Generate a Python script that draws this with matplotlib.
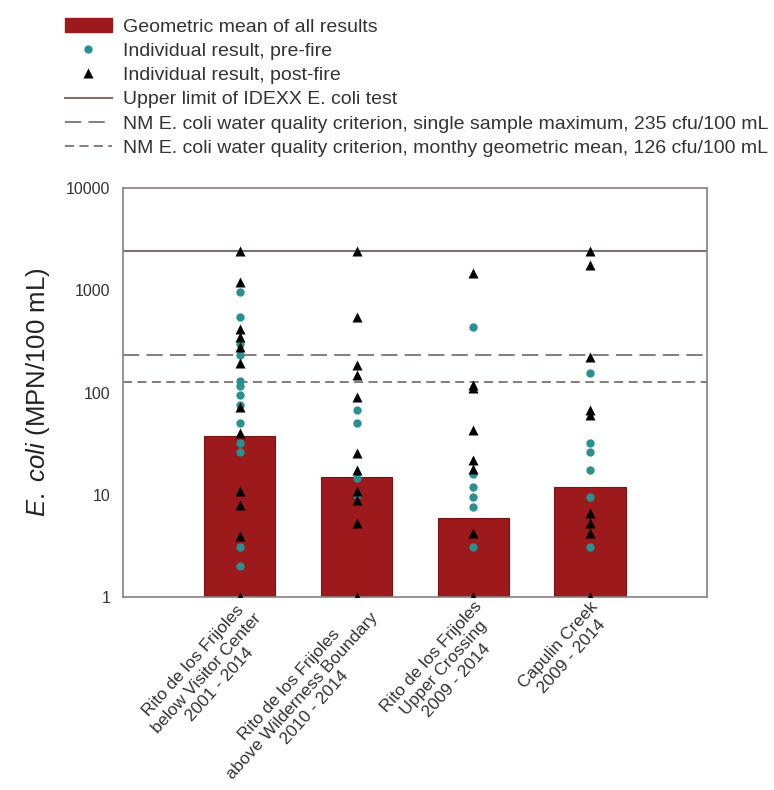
import numpy as np
import matplotlib
matplotlib.use('Agg')
import matplotlib.pyplot as plt
from matplotlib.lines import Line2D
from matplotlib.patches import Patch

plt.rcParams['font.family'] = ['Liberation Sans', 'DejaVu Sans']
plt.rcParams['mathtext.fontset'] = 'custom'
plt.rcParams['mathtext.it'] = 'Liberation Sans:italic'
plt.rcParams['mathtext.rm'] = 'Liberation Sans'

sites = ['Rito de los Frijoles\nbelow Visitor Center\n2001 - 2014',
         'Rito de los Frijoles\nabove Wilderness Boundary\n2010 - 2014',
         'Rito de los Frijoles\nUpper Crossing\n2009 - 2014',
         'Capulin Creek\n2009 - 2014']
geo_mean = [38, 15, 6, 12]

pre_fire = [
    [970, 550, 300, 235, 130, 115, 95, 75, 50, 32, 26, 3.1, 2.0],
    [67, 50, 14.6, 10],
    [437, 16, 12, 9.5, 7.6, 3.1],
    [155, 32, 26, 17.5, 9.5, 3.1],
]
post_fire = [
    [2420, 1210, 420, 350, 280, 194, 72, 40, 11, 7.9, 4.0, 1],
    [2420, 550, 185, 148, 91, 25.6, 17.5, 11, 8.9, 5.3, 1],
    [1470, 120, 110, 43, 22, 18, 4.2, 1],
    [2420, 1780, 222, 67, 60, 6.6, 5.3, 4.2, 1],
]

idexx_limit = 2419.6
single_max = 235
monthly_gm = 126

bar_col = '#9c1a1c'
teal = '#2b9090'
line_col = '#7d716e'

fig = plt.figure(figsize=(7.74, 7.9), dpi=100)
ax = fig.add_axes([0.159, 0.244, 0.754, 0.518])

x = np.arange(len(sites))
ax.bar(x, geo_mean, width=0.61, color=bar_col, edgecolor='#7a1214', linewidth=0.8, zorder=2)

ax.axhline(idexx_limit, color=line_col, lw=1.5, zorder=1)
ax.axhline(single_max, color=line_col, lw=1.3, ls=(0, (9, 4)), zorder=1)
ax.axhline(monthly_gm, color=line_col, lw=1.3, ls=(0, (5, 3)), zorder=1)

for i in range(len(sites)):
    ax.plot([x[i]] * len(pre_fire[i]), pre_fire[i], 'o', color=teal, ms=6, mec='none', zorder=3)
    ax.plot([x[i]] * len(post_fire[i]), post_fire[i], '^', color='black', ms=7, mec='none', zorder=4)

ax.set_yscale('log')
ax.set_ylim(1, 10000)
ax.set_xlim(-1, 4)
ax.set_yticks([1, 10, 100, 1000, 10000])
ax.set_yticklabels(['1', '10', '100', '1000', '10000'])
ax.minorticks_off()
ax.tick_params(axis='y', length=0, labelsize=11.5, pad=9, colors='#333333')
ax.tick_params(axis='x', length=0, pad=1)
ax.set_xticks(x)
ax.set_xticklabels(sites, rotation=48, ha='right', rotation_mode='anchor',
                   multialignment='center', fontsize=12.5, color='#333333',
                   linespacing=1.2)
for s in ax.spines.values():
    s.set_color('#8c7f7c')
    s.set_linewidth(1.2)

ax.set_ylabel(r'$\it{E.\ coli}$ (MPN/100 mL)', fontsize=18.5, color='#222222', labelpad=10)

handles = [
    Patch(facecolor=bar_col, edgecolor=bar_col),
    Line2D([], [], marker='o', color=teal, ls='none', ms=6, mec='none'),
    Line2D([], [], marker='^', color='black', ls='none', ms=7, mec='none'),
    Line2D([], [], color=line_col, lw=1.5),
    Line2D([], [], color=line_col, lw=1.3, ls=(0, (9, 4))),
    Line2D([], [], color=line_col, lw=1.3, ls=(0, (5, 3))),
]
labels = [
    'Geometric mean of all results',
    'Individual result, pre-fire',
    'Individual result, post-fire',
    'Upper limit of IDEXX E. coli test',
    'NM E. coli water quality criterion, single sample maximum, 235 cfu/100 mL',
    'NM E. coli water quality criterion, monthy geometric mean, 126 cfu/100 mL',
]
fig.legend(handles, labels, loc='upper left', bbox_to_anchor=(0.079, 0.982),
           frameon=False, fontsize=14, handlelength=2.4, handletextpad=0.6,
           labelspacing=0.34, borderpad=0.2, borderaxespad=0, labelcolor='#333333')

fig.savefig('out.png', dpi=100)
